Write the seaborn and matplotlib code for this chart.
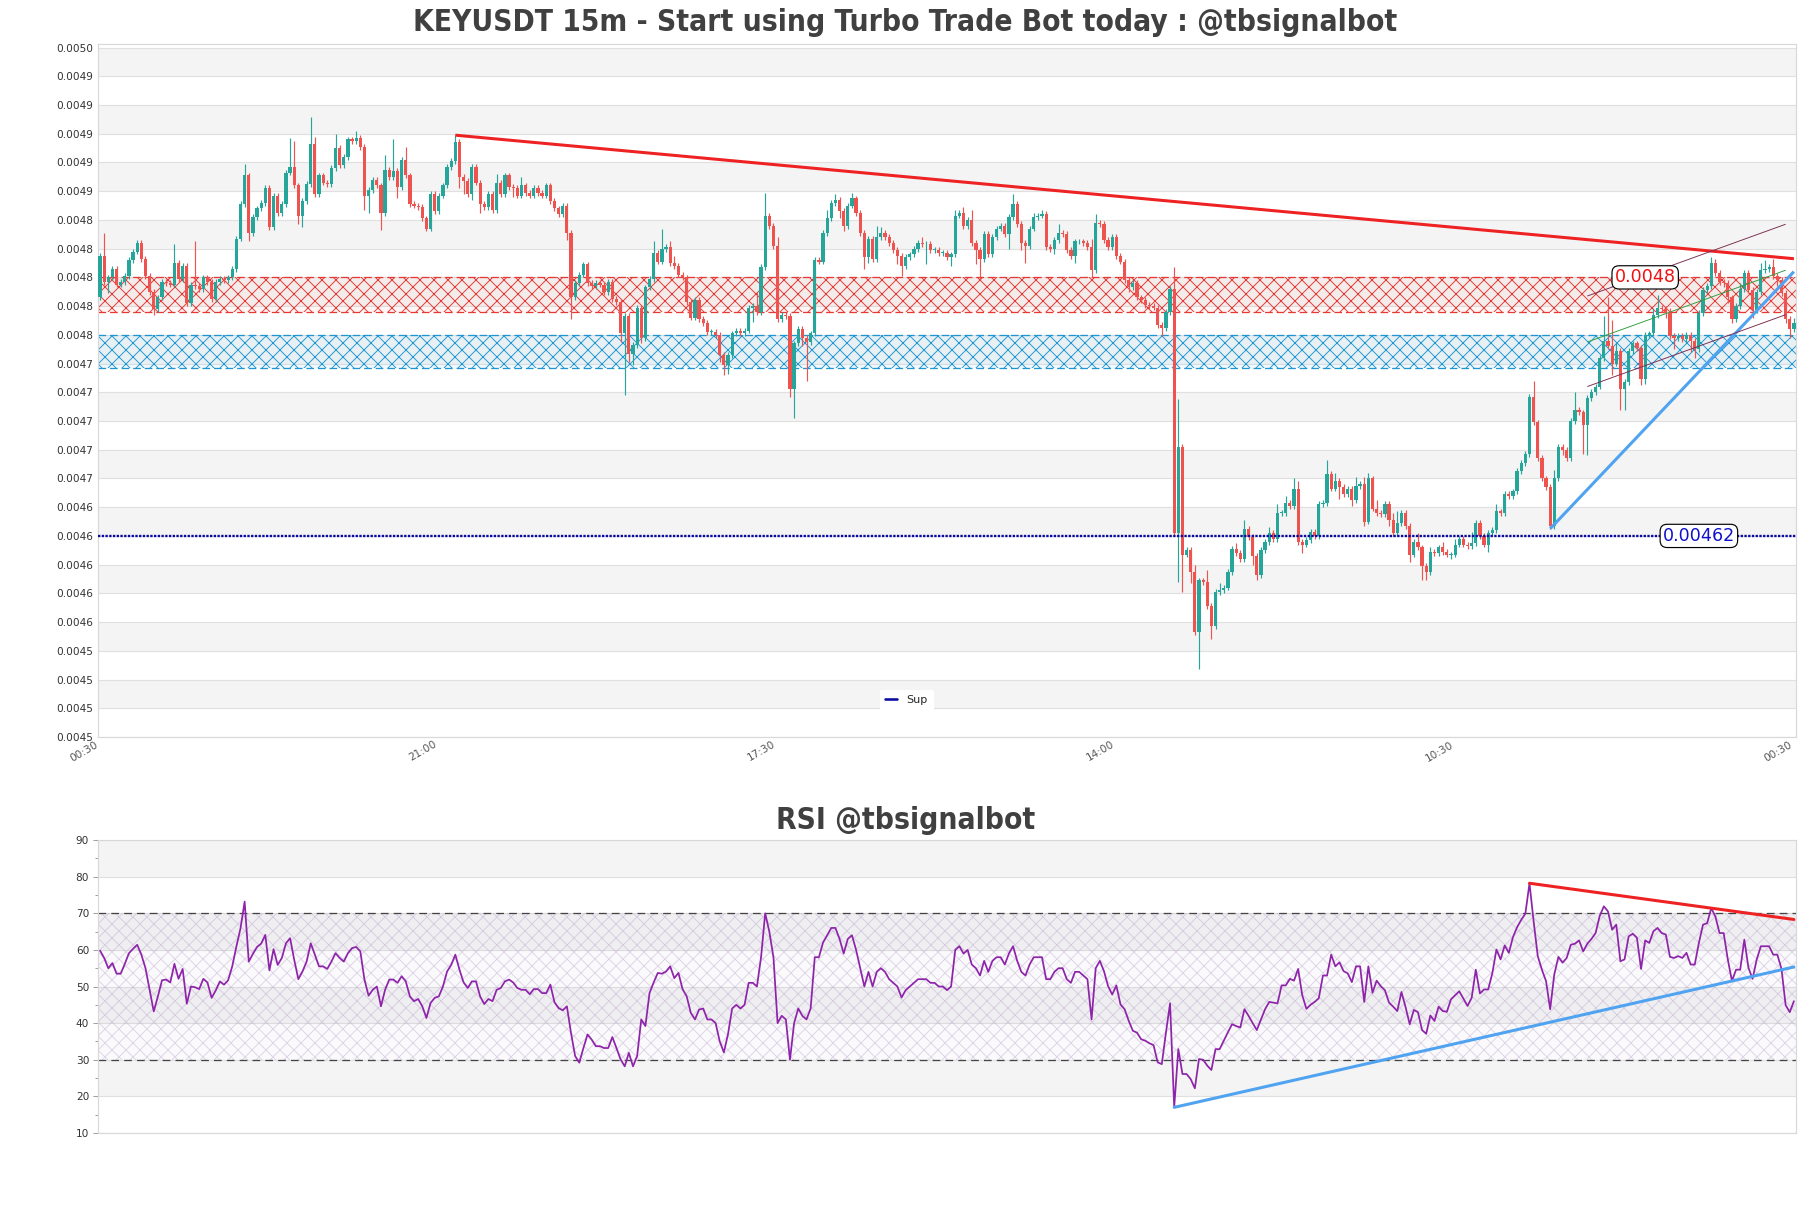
import numpy as np
import pandas as pd
import matplotlib
matplotlib.use('Agg')
import matplotlib.pyplot as plt
import seaborn as sns
from matplotlib.lines import Line2D
from matplotlib.ticker import FormatStrFormatter, MultipleLocator

# Prices in units of 1e-6 (4815 -> 0.004815), one candle every 15 minutes
first_open = 4786
close_a = [4815, 4797, 4800, 4806, 4795, 4797, 4801, 4812, 4818, 4824,
           4813, 4801, 4790, 4778, 4786, 4797, 4796, 4795, 4810, 4799,
           4808, 4782, 4795, 4794, 4792, 4800, 4797, 4785, 4797, 4799,
           4798, 4800, 4806, 4827, 4851, 4871, 4831, 4842, 4848, 4852,
           4862, 4835, 4857, 4845, 4851, 4873, 4877, 4864, 4843, 4853,
           4865, 4893, 4858, 4871, 4866, 4865, 4876, 4890, 4878, 4884,
           4896, 4895, 4897, 4891, 4857, 4861, 4868, 4864, 4845, 4875,
           4870, 4874, 4863, 4882, 4871, 4851, 4850, 4849, 4841, 4834,
           4858, 4846, 4857, 4864, 4877, 4881, 4894, 4870, 4867, 4858,
           4877, 4866, 4851, 4849, 4858, 4847, 4866, 4858, 4871, 4863,
           4862, 4857]
close_b = [4864, 4859, 4857, 4862, 4859, 4857, 4864, 4853, 4848, 4844,
           4850, 4831, 4786, 4796, 4802, 4809, 4796, 4794, 4796, 4795,
           4790, 4797, 4785, 4783, 4761, 4773, 4747, 4753, 4779, 4758,
           4793, 4799, 4817, 4811, 4820, 4821, 4810, 4808, 4802, 4800,
           4783, 4772, 4784, 4771, 4768, 4762, 4762, 4760, 4746, 4739,
           4746, 4761, 4763, 4761, 4763, 4779, 4780, 4776, 4807, 4843,
           4836, 4822, 4771, 4774, 4773, 4722, 4754, 4764, 4758, 4755,
           4761, 4812, 4811, 4831, 4841, 4852, 4854, 4846, 4836, 4850,
           4855, 4845, 4831, 4814, 4827, 4813, 4828, 4831, 4828, 4824,
           4819, 4815, 4808, 4814, 4816, 4820, 4824, 4823, 4823, 4819,
           4819, 4817, 4817, 4814, 4816, 4843, 4845]
close_c = [4836, 4840, 4824, 4819, 4813, 4830, 4816, 4828, 4834, 4836,
           4830, 4842, 4851, 4837, 4824, 4822, 4834, 4842, 4843, 4844,
           4821, 4820, 4826, 4831, 4830, 4819, 4815, 4825, 4825, 4824,
           4821, 4805, 4838, 4837, 4826, 4821, 4828, 4815, 4811, 4798,
           4793, 4796, 4786, 4784, 4781, 4780, 4779, 4767, 4765, 4776,
           4792, 4622, 4682, 4607, 4610, 4595, 4553, 4589, 4588, 4571,
           4557, 4581, 4582, 4584, 4595, 4611, 4608, 4604, 4625, 4619,
           4606, 4593, 4610, 4616, 4622, 4618, 4636, 4636, 4643, 4641,
           4653, 4616, 4614, 4617, 4623, 4620, 4642, 4643, 4663, 4653,
           4658, 4654, 4649, 4653, 4645, 4655, 4656, 4630, 4660, 4639,
           4636, 4635, 4642, 4631]
close_d = [4622, 4629, 4636, 4627, 4607, 4616, 4612, 4599, 4595, 4609,
           4608, 4612, 4609, 4607, 4607, 4614, 4618, 4614, 4613, 4615,
           4629, 4620, 4614, 4622, 4624, 4637, 4636, 4649, 4648, 4651,
           4665, 4671, 4677, 4717, 4699, 4674, 4660, 4654, 4627, 4660,
           4682, 4680, 4674, 4700, 4708, 4706, 4697, 4716, 4720, 4724,
           4744, 4756, 4752, 4740, 4749, 4722, 4727, 4749, 4754, 4751,
           4729, 4760, 4761, 4774, 4779, 4778, 4775, 4759, 4758, 4759,
           4757, 4760, 4756, 4750, 4775, 4791, 4794, 4810, 4803, 4797,
           4796, 4786, 4771, 4780, 4792, 4803, 4791, 4777, 4790, 4805,
           4806, 4807, 4801, 4798, 4789, 4771, 4764, 4768]

# wick lengths above / below the body (1e-6), candles not listed have 2
wick_up = {1: 16, 18: 13, 23: 30, 35: 8, 46: 20, 47: 18, 51: 19, 52: 5, 57: 10,
           62: 5, 69: 10, 71: 22, 74: 9, 86: 5, 96: 6, 102: 6, 134: 8, 136: 14,
           138: 4, 139: 5, 159: 10, 161: 16, 164: 6, 176: 6, 178: 4, 182: 4,
           188: 8, 189: 4, 199: 4, 207: 4, 209: 4, 211: 7, 221: 7, 226: 3, 228: 3,
           232: 6, 240: 6, 241: 6, 260: 15, 261: 33, 265: 5, 268: 8, 271: 5,
           275: 4, 277: 6, 283: 4, 285: 6, 287: 5, 289: 7, 290: 5, 297: 10,
           299: 6, 304: 6, 306: 5, 307: 4, 309: 6, 313: 5, 314: 8, 319: 6,
           322: 3, 325: 4, 328: 4, 332: 8, 338: 5, 347: 11, 352: 6, 357: 12,
           364: 17, 365: 30, 366: 18, 367: 5, 376: 5, 377: 9, 380: 4, 390: 4,
           391: 3, 397: 4, 402: 5, 403: 6, 405: 6, 410: 4}
wick_dn = {2: 8, 13: 4, 36: 6, 48: 6, 49: 8, 64: 10, 65: 12, 68: 12, 72: 8,
           87: 8, 88: 9, 90: 4, 92: 6, 100: 6, 113: 5, 114: 15, 126: 6, 127: 43,
           128: 6, 129: 8, 131: 4, 150: 5, 151: 7, 152: 6, 158: 10, 167: 5,
           168: 20, 170: 6, 171: 27, 179: 5, 180: 4, 185: 8, 186: 4, 193: 6,
           194: 7, 200: 14, 206: 6, 212: 10, 213: 15, 220: 10, 223: 5, 224: 12,
           231: 4, 236: 5, 240: 5, 249: 3, 257: 6, 261: 34, 262: 26, 264: 8,
           266: 26, 269: 9, 279: 6, 280: 4, 291: 6, 300: 8, 303: 4, 306: 3,
           312: 4, 317: 5, 320: 10, 321: 6, 327: 3, 336: 5, 354: 4, 359: 20,
           360: 21, 366: 8, 368: 14, 369: 14, 373: 4, 374: 3, 379: 3, 381: 8,
           385: 8, 386: 6, 393: 3, 394: 4, 395: 3, 400: 5, 406: 4, 408: 3,
           409: 6}

rsi_a = [59.8, 57.8, 55.0, 56.4, 53.5, 53.5, 56.2, 59.1, 60.3, 61.4,
         58.7, 55.0, 49.1, 43.2, 47.3, 51.7, 51.9, 51.1, 56.2, 52.1,
         54.8, 45.3, 50.0, 49.8, 49.3, 52.1, 51.1, 46.9, 48.9, 51.4,
         50.5, 51.7, 55.5, 60.9, 65.9, 73.2, 56.8, 58.9, 60.8, 61.7,
         64.1, 54.4, 60.2, 55.9, 57.8, 61.8, 63.2, 57.3, 52.0, 54.1,
         56.8, 61.8, 58.7, 55.5, 55.5, 54.8, 56.8, 59.1, 57.8, 56.8,
         59.1, 60.5, 60.8, 59.6, 51.9, 47.5, 49.1, 50.0, 44.6, 49.1,
         51.9, 51.9, 51.0, 52.8, 51.4, 47.3, 46.0, 46.6, 44.6, 41.4,
         45.5, 46.9, 47.3, 50.0, 54.1, 55.9, 58.7, 54.6, 51.1, 49.6,
         51.4, 51.4, 47.3, 45.2, 46.6, 46.0, 49.1, 49.6, 51.4, 51.9,
         51.1, 49.6, 49.1, 49.1, 47.9, 49.3, 49.3, 48.2, 48.2, 50.5,
         45.7, 44.1, 43.5, 44.6, 37.3, 31.0, 29.2, 33.2, 36.9, 35.5,
         33.7, 33.7, 33.2, 33.2, 36.2, 33.2, 30.1, 28.2, 31.9, 28.2,
         31.0, 41.0, 39.2, 48.2, 51.1, 53.7, 53.5, 54.1, 55.5, 52.3,
         53.7, 49.3, 47.3, 42.8, 41.0, 43.7]
rsi_b = [44, 41, 41, 40, 35, 32, 37, 44, 45, 44,
         45, 51, 51, 50, 58, 70, 65, 58, 40, 42,
         41, 30, 40, 44, 42, 41, 44, 58, 58, 62,
         64, 66, 66, 63, 59, 63, 64, 60, 55, 50,
         54, 50, 54, 55, 54, 52, 51, 50, 47, 49,
         50, 51, 52, 52, 52, 51, 51, 50, 50, 49,
         50, 60, 61, 59, 60, 56, 55, 53, 57, 54,
         57, 58, 58, 56, 59, 61, 57, 54, 53, 56,
         58, 58, 58, 52, 52, 54, 55, 55, 52, 51,
         54, 54, 53, 52, 41, 55]
rsi_c = [57.0, 54.2, 50.1, 47.8, 50.3, 45.1, 43.8, 40.6, 37.9, 37.4,
         35.6, 35.2, 34.5, 34.0, 29.3, 28.8, 37.4, 45.4,
         17.0, 32.9, 26.1, 26.1, 24.7, 22.2, 30.2, 30.0, 28.4, 27.2,
         32.9, 32.9, 35.2, 37.5, 39.7, 39.2, 38.8, 43.8, 42.0, 40.0,
         38.1, 41.0, 43.8, 45.8, 45.6, 45.4, 50.3, 50.3, 52.1, 51.6,
         54.8, 47.6, 43.9, 45.0, 45.8, 46.8, 53.0, 53.0, 58.7, 55.5,
         56.6, 54.2, 53.6, 51.2, 55.5, 55.5, 45.8, 55.5, 48.3, 51.6,
         50.1, 49.0, 45.6, 44.5, 43.3, 48.5, 44.4, 39.7, 43.6, 43.0,
         38.1, 37.1, 42.1, 40.6, 44.5, 43.3, 43.1, 46.5, 47.6, 48.7,
         46.7, 44.7, 46.9, 54.6, 48.1, 49.2, 49.2, 53.6, 60.1, 57.4,
         61.2, 59.2, 63.5, 66.2, 68.2, 69.9, 78.2,
         67.8, 58.3, 54.6, 51.5, 43.8, 53.3, 58.1, 56.5, 57.8, 61.4,
         61.7, 62.6, 59.6, 61.7, 63.0, 64.6, 69.3, 71.9, 70.5, 65.5,
         66.9, 56.9, 57.4, 63.7, 64.4, 63.3, 54.8, 62.6, 61.9, 65.1,
         66.0, 64.6, 64.2, 58.1, 57.8, 58.3, 57.8, 59.2, 56.0, 56.0,
         61.9, 66.9, 67.3, 71.4, 69.1, 64.6, 64.6, 57.4, 51.5, 54.6,
         54.6, 62.8, 55.1, 52.1, 57.4, 61.0, 61.0, 61.0, 58.7, 58.7,
         54.8, 44.9, 43.0, 46.0]

tick_pos = [0, 82, 164, 246, 328, 410]
tick_labels = ['00:30', '21:00', '17:30', '14:00', '10:30', '00:30']

sup_level = 4620
res_zone = (4776, 4800)
sup_zone = (4737, 4760)
# trend lines: (candle index, price)
down_trend = [(86, 4899), (410, 4813)]
up_trend = [(351, 4625), (410, 4804)]
channel_hi = [(360, 4787), (408, 4837)]
channel_mid = [(360, 4755), (408, 4805)]
channel_lo = [(360, 4724), (408, 4774)]
res_label = (374, 4800, '0.0048')
sup_label = (387, 4620, '0.00462')
rsi_down = [(346, 78.2), (390, 71.4)]
rsi_up = [(260, 17.0), (395, 51.5)]

GREEN = '#26a69a'
RED = '#ef5350'
BAND = '#f4f4f4'
GRID = '#e0e0e0'
SUP_COLOR = '#0a0aa0'

sns.set_theme(style='white')
plt.rcParams['font.family'] = ['DejaVu Sans']
plt.rcParams['hatch.linewidth'] = 0.8

DPI = 84
fig = plt.figure(figsize=(1811 / DPI, 1208 / DPI), dpi=DPI)
ax = fig.add_axes([0.0541, 0.3899, 0.9376, 0.5737])
ax_rsi = fig.add_axes([0.0541, 0.0621, 0.9376, 0.2425])

s = 1e-6
close = np.array(close_a + close_b + close_c + close_d, dtype=float) * s
open_ = np.concatenate([[first_open * s], close[:-1]])
n = len(close)
x = np.arange(n)
up = np.array([wick_up.get(i, 2) for i in range(n)]) * s
dn = np.array([wick_dn.get(i, 2) for i in range(n)]) * s
high = np.maximum(open_, close) + up
low = np.minimum(open_, close) - dn
colors = np.where(close >= open_, GREEN, RED)
body = close - open_
body = np.where(np.abs(body) < 0.5 * s, 0.5 * s, body)

# price panel background
yticks = np.arange(4480, 4961, 20) * s
ymax = 4962.5 * s
for k in range(len(yticks) - 1):
    if k % 2 == 1:
        ax.axhspan(yticks[k], yticks[k + 1], color=BAND, lw=0, zorder=0)
for yv in yticks:
    ax.axhline(yv, color=GRID, lw=1, zorder=0.5)

# zones
ax.axhspan(res_zone[0] * s, res_zone[1] * s, facecolor=(1, 0.3, 0.3, 0.05),
           edgecolor='#e53935', hatch='xx', lw=0, zorder=1)
for yv in res_zone:
    ax.axhline(yv * s, color='#e53935', ls=(0, (6, 3)), lw=1.1, zorder=1.2)
ax.axhspan(sup_zone[0] * s, sup_zone[1] * s, facecolor=(0.2, 0.7, 0.95, 0.06),
           edgecolor='#1e96d2', hatch='xx', lw=0, zorder=1)
for yv in sup_zone:
    ax.axhline(yv * s, color='#1e96d2', ls=(0, (6, 3)), lw=1.1, zorder=1.2)

# candles
ax.vlines(x, low, high, colors=colors, lw=1, zorder=2)
ax.bar(x, body, bottom=open_, width=0.78, color=colors, lw=0, zorder=3)

# support level and trend lines
ax.axhline(sup_level * s, color=SUP_COLOR, ls=(0, (1, 0.6)), lw=2, zorder=4)
for pts, col, lw in [(down_trend, '#ee2222', 2.6), (up_trend, '#4fa3f0', 2.6),
                     (channel_hi, '#7a2e4f', 0.8), (channel_mid, '#2e9e3e', 0.8),
                     (channel_lo, '#7a2e4f', 0.8)]:
    ax.plot([p[0] for p in pts], [p[1] * s for p in pts], color=col, lw=lw,
            solid_capstyle='butt', zorder=5)

box = dict(boxstyle='round,pad=0.15,rounding_size=0.4', fc='white', ec='black', lw=1)
ax.text(res_label[0], res_label[1] * s, res_label[2], color='#ee1111', fontsize=15,
        ha='center', va='center', bbox=box, zorder=6)
ax.text(sup_label[0], sup_label[1] * s, sup_label[2], color='#1010cc', fontsize=15,
        ha='center', va='center', bbox=box, zorder=6)

ax.set_xlim(-0.5, n - 0.5)
ax.set_ylim(yticks[0], ymax)
ax.set_yticks(yticks)
ax.yaxis.set_major_formatter(FormatStrFormatter('%.4f'))
ax.set_xticks(tick_pos)
ax.set_xticklabels(tick_labels, rotation=30, ha='right')
ax.tick_params(axis='y', length=0, labelsize=9, labelcolor='#333333', pad=4)
ax.tick_params(axis='x', length=0, labelsize=9, labelcolor='#555555', pad=2)
sup_handle = Line2D([], [], color=SUP_COLOR, lw=2.2)
ax.legend([sup_handle], ['Sup'], loc='lower center', bbox_to_anchor=(0.476, 0.03),
          fontsize=9.5, frameon=True, framealpha=1, edgecolor='white',
          facecolor='white', handlelength=1.1, borderpad=0.5)

# RSI panel
for lo_, hi_ in [(20, 30), (40, 50), (60, 70), (80, 90)]:
    ax_rsi.axhspan(lo_, hi_, color=BAND, lw=0, zorder=0)
for yv in range(10, 91, 10):
    ax_rsi.axhline(yv, color=GRID, lw=1, zorder=0.5)
ax_rsi.axhspan(30, 70, facecolor=(0.45, 0.3, 0.6, 0.03),
               edgecolor=(0.62, 0.52, 0.72, 0.3), hatch='xx', lw=0, zorder=1)
for yv in (30, 70):
    ax_rsi.axhline(yv, color='#444444', ls=(0, (6, 4)), lw=1.1, zorder=2)

rsi = np.array(rsi_a + rsi_b + rsi_c)
df_rsi = pd.DataFrame({'i': np.arange(len(rsi)), 'rsi': rsi})
sns.lineplot(data=df_rsi, x='i', y='rsi', ax=ax_rsi, color='#8e24aa', lw=1.5, zorder=3)
for pts, col in [(rsi_down, '#ee2222'), (rsi_up, '#4fa3f0')]:
    (x0, y0), (x1, y1) = pts
    slope = (y1 - y0) / (x1 - x0)
    ax_rsi.plot([x0, n - 1], [y0, y0 + slope * (n - 1 - x0)], color=col, lw=2.6, zorder=4)

ax_rsi.set_xlim(-0.5, n - 0.5)
ax_rsi.set_ylim(10, 90)
ax_rsi.set_yticks(range(10, 91, 10))
ax_rsi.yaxis.set_minor_locator(MultipleLocator(5))
ax_rsi.set_xticks([])
ax_rsi.set_xlabel('')
ax_rsi.set_ylabel('')
ax_rsi.tick_params(axis='y', which='major', length=4, width=0.8, color='#999999',
                   labelsize=9, labelcolor='#333333', left=True)
ax_rsi.tick_params(axis='y', which='minor', length=2.5, width=0.8, color='#999999', left=True)

for a in (ax, ax_rsi):
    for sp in a.spines.values():
        sp.set_color('#d8d8d8')
        sp.set_linewidth(1)

fig.text(0.5, 0.981, 'KEYUSDT 15m - Start using Turbo Trade Bot today : @tbsignalbot',
         ha='center', va='center', fontsize=25.5, fontweight='bold', color='#404040',
         fontstretch='condensed')
fig.text(0.5, 0.321, 'RSI @tbsignalbot', ha='center', va='center', fontsize=25.5,
         fontweight='bold', color='#404040', fontstretch='condensed')

fig.savefig('out.png', dpi=DPI)
